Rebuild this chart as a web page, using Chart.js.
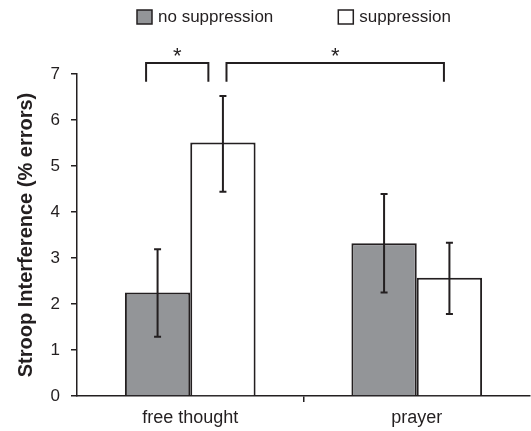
<!DOCTYPE html>
<html>
<head>
<meta charset="utf-8">
<script src="https://cdn.jsdelivr.net/npm/chart.js@4.4.1/dist/chart.umd.min.js"></script>
<style>
  html, body { margin: 0; padding: 0; background: #fff; }
</style>
</head>
<body>
<canvas id="myChart" width="531" height="431"></canvas>
<script>
const categories = ['free thought', 'prayer'];
const seriesNames = ['no suppression', 'suppression'];
const noSuppression = [2.25, 3.32];
const suppression = [5.51, 2.57];
// error bar ends
const noSuppressionLow = [1.29, 2.25];
const noSuppressionHigh = [3.19, 4.39];
const suppressionLow = [4.44, 1.78];
const suppressionHigh = [6.52, 3.33];
const yTicks = [0, 1, 2, 3, 4, 5, 6, 7];
// significance brackets, in category units (0 = free thought, 1 = prayer)
const sigFrom = [-0.195, 0.16];
const sigTo = [0.08, 1.12];

const ink = '#231f20';
const font = "'Liberation Sans', Arial, Helvetica, sans-serif";
const errLow = [noSuppressionLow, suppressionLow];
const errHigh = [noSuppressionHigh, suppressionHigh];

const errorBars = {
  id: 'errorBars',
  afterDatasetsDraw(chart) {
    const { ctx, scales: { y } } = chart;
    ctx.save();
    ctx.strokeStyle = ink;
    ctx.lineWidth = 2;
    chart.data.datasets.forEach((ds, i) => {
      chart.getDatasetMeta(i).data.forEach((bar, j) => {
        const top = y.getPixelForValue(errHigh[i][j]);
        const bot = y.getPixelForValue(errLow[i][j]);
        ctx.beginPath();
        ctx.moveTo(bar.x, top); ctx.lineTo(bar.x, bot);
        ctx.moveTo(bar.x - 3.5, top); ctx.lineTo(bar.x + 3.5, top);
        ctx.moveTo(bar.x - 3.5, bot); ctx.lineTo(bar.x + 3.5, bot);
        ctx.stroke();
      });
    });
    ctx.restore();
  }
};

const extras = {
  id: 'extras',
  afterDraw(chart) {
    const { ctx, scales: { x, y } } = chart;
    const step = x.getPixelForValue(1) - x.getPixelForValue(0);
    const px = v => x.getPixelForValue(0) + v * step;
    const barTop = y.getPixelForValue(7.24);
    const legBot = y.getPixelForValue(6.83);
    const starY = y.getPixelForValue(7.45);
    ctx.save();
    ctx.strokeStyle = ink;
    ctx.fillStyle = ink;
    ctx.lineWidth = 2;
    sigFrom.forEach((f, k) => {
      const a = px(f), b = px(sigTo[k]);
      ctx.beginPath();
      ctx.moveTo(a, legBot); ctx.lineTo(a, barTop); ctx.lineTo(b, barTop); ctx.lineTo(b, legBot);
      ctx.stroke();
      ctx.font = '22px ' + font;
      ctx.textAlign = 'center';
      ctx.textBaseline = 'middle';
      ctx.fillText('*', (a + b) / 2, starY + 4);
    });

    // legend
    ctx.font = '17px ' + font;
    ctx.textAlign = 'left';
    ctx.textBaseline = 'middle';
    ctx.lineWidth = 1.5;
    let lx = 137;
    chart.data.datasets.forEach(ds => {
      ctx.fillStyle = ds.backgroundColor;
      ctx.fillRect(lx, 10, 15, 14);
      ctx.strokeRect(lx, 10, 15, 14);
      ctx.fillStyle = ink;
      ctx.fillText(ds.label, lx + 21, 17.5);
      lx += 21 + ctx.measureText(ds.label).width + 65;
    });
    ctx.restore();
  }
};

new Chart(document.getElementById('myChart'), {
  type: 'bar',
  data: {
    labels: categories,
    datasets: [{
      label: seriesNames[0],
      data: noSuppression,
      backgroundColor: '#939598',
      borderColor: ink,
      borderWidth: 2,
      barPercentage: 1,
      categoryPercentage: 0.577
    }, {
      label: seriesNames[1],
      data: suppression,
      backgroundColor: '#ffffff',
      borderColor: ink,
      borderWidth: 2,
      barPercentage: 1,
      categoryPercentage: 0.577
    }]
  },
  options: {
    responsive: false,
    animation: false,
    layout: { padding: { top: 74, left: 5, right: 1, bottom: 0 } },
    plugins: {
      legend: { display: false },
      tooltip: { enabled: false }
    },
    scales: {
      x: {
        offset: true,
        grid: {
          offset: true,
          drawOnChartArea: false,
          tickLength: 6,
          lineWidth: 1.5,
          color: c => c.index === 1 ? ink : 'rgba(0,0,0,0)'
        },
        border: { color: ink, width: 1.5 },
        ticks: { font: { family: font, size: 18 }, color: ink, padding: 5 },
        afterFit: s => { s.height = 35; }
      },
      y: {
        min: 0,
        max: 7,
        afterBuildTicks: s => { s.ticks = yTicks.map(v => ({ value: v })); },
        grid: { drawOnChartArea: false, tickLength: 6, lineWidth: 1.5, color: ink },
        border: { color: ink, width: 1.5 },
        ticks: { font: { family: font, size: 17 }, color: ink, padding: 11 },
        title: {
          display: true,
          text: 'Stroop Interference (% errors)',
          font: { family: font, size: 20, weight: 'bold' },
          color: ink,
          padding: { top: 9 }
        },
        afterFit: s => { s.width = 72; }
      }
    }
  },
  plugins: [errorBars, extras]
});
</script>
</body>
</html>
